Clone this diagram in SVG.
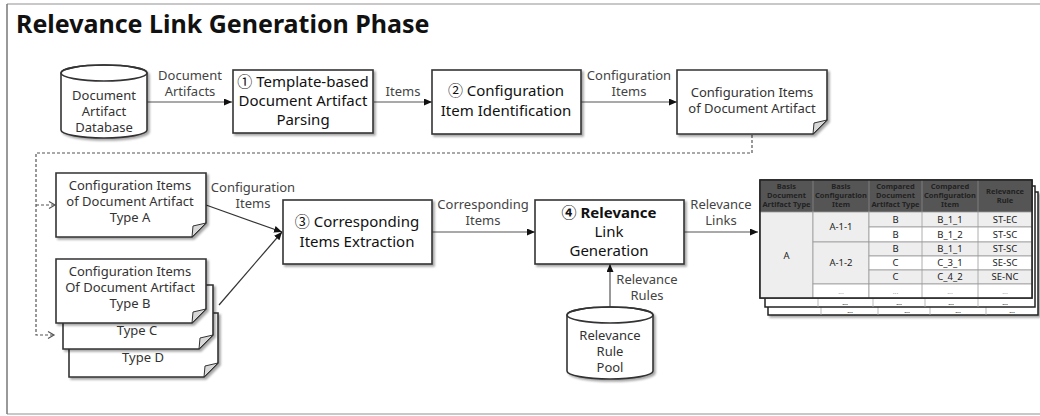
<svg xmlns="http://www.w3.org/2000/svg" width="1040" height="416" viewBox="0 0 1040 416">
<style>
text{font-family:"Noto Sans","Open Sans","Noto Sans CJK KR",sans-serif;fill:#222;text-anchor:middle}
.title{font-size:25px;font-weight:bold;text-anchor:start;fill:#111}
.bx{fill:#fff;stroke:#333;stroke-width:1.6}
.bt{font-size:15px;fill:#111}
.dt{font-size:13px;fill:#333}
.lb{font-size:13px;fill:#444}
.fold{fill:#d8d8d8;stroke:#333;stroke-width:1}
.ln{fill:none;stroke:#333;stroke-width:1.2}
.ln2{fill:none;stroke:#555;stroke-width:1.2}
.dash{fill:none;stroke:#555;stroke-width:1.2;stroke-dasharray:3 2}
.th{font-size:7.5px;font-weight:bold;fill:#fff}
.td{font-size:9.5px;fill:#333}
.tdd{font-size:7px;fill:#aaa}
.g1{fill:#eeeeee}
.g0{fill:#ffffff}
.cell{stroke:#999;stroke-width:0.8}
</style>
<defs>
<filter id="sh" x="-10%" y="-10%" width="130%" height="130%">
<feDropShadow dx="2" dy="2" stdDeviation="1.2" flood-color="#000" flood-opacity="0.35"/>
</filter>
<marker id="ar" markerUnits="userSpaceOnUse" markerWidth="9" markerHeight="8" refX="8" refY="3.5" orient="auto">
<path d="M0,0 L8,3.5 L0,7 Z" fill="#111"/>
</marker>
<marker id="oa" markerUnits="userSpaceOnUse" markerWidth="9" markerHeight="9" refX="7" refY="4" orient="auto">
<path d="M1,0.5 L7,4 L1,7.5" fill="none" stroke="#555" stroke-width="1.2"/>
</marker>
</defs>
<rect x="0" y="0" width="1040" height="416" fill="#fff"/>
<g id="frame">
<line x1="7" y1="4" x2="1040" y2="4" stroke="#c8c8c8" stroke-width="2"/>
<line x1="7" y1="414" x2="1040" y2="414" stroke="#c8c8c8" stroke-width="2"/>
<line x1="7" y1="4" x2="7" y2="414" stroke="#777" stroke-width="1.5"/>
</g>
<text class="title" x="16" y="33">Relevance Link Generation Phase</text>

<g id="connectors">
<line class="ln2" x1="147" y1="102" x2="232" y2="102" marker-end="url(#ar)"/>
<line class="ln2" x1="374" y1="102" x2="432" y2="102" marker-end="url(#ar)"/>
<line class="ln2" x1="581" y1="102" x2="677" y2="102" marker-end="url(#ar)"/>
<path class="dash" d="M752,135 V153 H36 V335 H54" marker-end="url(#oa)"/>
<path class="dash" d="M36,205 H55" marker-end="url(#oa)"/>
<line class="ln" x1="206" y1="205" x2="282" y2="232" marker-end="url(#ar)"/>
<line class="ln" x1="219" y1="305" x2="282" y2="232" marker-end="url(#ar)"/>
<line class="ln2" x1="432" y1="232" x2="535" y2="232" marker-end="url(#ar)"/>
<line class="ln2" x1="684" y1="232" x2="758" y2="232" marker-end="url(#ar)"/>
<line class="ln2" x1="610" y1="307" x2="610" y2="264" marker-end="url(#ar)"/>
<text class="lb" x="190" y="80">Document</text>
<text class="lb" x="190" y="96">Artifacts</text>
<text class="lb" x="403" y="96">Items</text>
<text class="lb" x="629" y="80">Configuration</text>
<text class="lb" x="629" y="96">Items</text>
<text class="lb" x="253" y="192">Configuration</text>
<text class="lb" x="253" y="208">Items</text>
<text class="lb" x="483" y="209">Corresponding</text>
<text class="lb" x="483" y="225">Items</text>
<text class="lb" x="721" y="209">Relevance</text>
<text class="lb" x="721" y="225">Links</text>
<text class="lb" x="647" y="284">Relevance</text>
<text class="lb" x="647" y="300">Rules</text>
</g>

<g id="db-document-artifact">
<path class="bx" filter="url(#sh)" d="M61,73 V130 A43,8 0 0 0 147,130 V73 A43,8 0 0 0 61,73 Z"/>
<ellipse cx="104" cy="73" rx="43" ry="8" fill="none" stroke="#333" stroke-width="1.6"/>
<text class="dt" x="104" y="100">Document</text>
<text class="dt" x="104" y="116">Artifact</text>
<text class="dt" x="104" y="132">Database</text>
</g>

<g id="step1">
<rect class="bx" filter="url(#sh)" x="233" y="70" width="140" height="63"/>
<text class="bt" x="303" y="87">① Template-based</text>
<text class="bt" x="303" y="106">Document Artifact</text>
<text class="bt" x="303" y="125">Parsing</text>
</g>

<g id="step2">
<rect class="bx" filter="url(#sh)" x="432" y="70" width="149" height="64"/>
<text class="bt" x="506" y="96">② Configuration</text>
<text class="bt" x="506" y="116">Item Identification</text>
</g>

<g id="doc-config-items">
<path class="bx" filter="url(#sh)" d="M677,70 H827 V120 L813,134 H677 Z"/>
<path class="fold" d="M827,120 L814,123 L813,134 Z"/>
<text class="dt" x="752" y="97">Configuration Items</text>
<text class="dt" x="752" y="113">of Document Artifact</text>
</g>

<g id="doc-type-a">
<path class="bx" filter="url(#sh)" d="M56,173 H206 V223 L192,237 H56 Z"/>
<path class="fold" d="M206,223 L193,226 L192,237 Z"/>
<text class="dt" x="130" y="190">Configuration Items</text>
<text class="dt" x="130" y="206">of Document Artifact</text>
<text class="dt" x="130" y="222">Type A</text>
</g>

<g id="doc-type-d">
<path class="bx" filter="url(#sh)" d="M69,313 H218 V363 L204,377 H69 Z"/>
<path class="fold" d="M218,363 L205,366 L204,377 Z"/>
<text class="dt" x="143" y="362">Type D</text>
</g>
<g id="doc-type-c">
<path class="bx" filter="url(#sh)" d="M63,285 H213 V335 L199,349 H63 Z"/>
<path class="fold" d="M213,335 L200,338 L199,349 Z"/>
<text class="dt" x="137" y="335">Type C</text>
</g>
<g id="doc-type-b">
<path class="bx" filter="url(#sh)" d="M56,259 H206 V309 L192,323 H56 Z"/>
<path class="fold" d="M206,309 L193,312 L192,323 Z"/>
<text class="dt" x="130" y="276">Configuration Items</text>
<text class="dt" x="130" y="292">Of Document Artifact</text>
<text class="dt" x="130" y="308">Type B</text>
</g>

<g id="step3">
<rect class="bx" filter="url(#sh)" x="283" y="200" width="149" height="64"/>
<text class="bt" x="357" y="227">③ Corresponding</text>
<text class="bt" x="357" y="247">Items Extraction</text>
</g>

<g id="step4">
<rect class="bx" filter="url(#sh)" x="535" y="200" width="149" height="64"/>
<text class="bt" x="609" y="218" font-weight="bold">④ Relevance</text>
<text class="bt" x="609" y="237">Link</text>
<text class="bt" x="609" y="256">Generation</text>
</g>

<g id="db-rule-pool">
<path class="bx" filter="url(#sh)" d="M567,315 V371 A43,8 0 0 0 653,371 V315 A43,8 0 0 0 567,315 Z"/>
<ellipse cx="610" cy="315" rx="43" ry="8" fill="none" stroke="#333" stroke-width="1.6"/>
<text class="dt" x="610" y="340">Relevance</text>
<text class="dt" x="610" y="356">Rule</text>
<text class="dt" x="610" y="372">Pool</text>
</g>

<g id="relevance-table">
<rect x="768" y="192" width="270" height="123" fill="#fff" stroke="#222" stroke-width="1.5" filter="url(#sh)"/>
<g stroke="#aaa" stroke-width="0.8">
<line x1="821" y1="307" x2="821" y2="315"/><line x1="878" y1="307" x2="878" y2="315"/><line x1="930" y1="307" x2="930" y2="315"/><line x1="986" y1="307" x2="986" y2="315"/>
</g>
<g class="tdd"><text x="907" y="313">...</text><text x="958" y="313">...</text><text x="1012" y="313">...</text><text x="850" y="313">...</text></g>
<rect x="765" y="186" width="270" height="121" fill="#fff" stroke="#222" stroke-width="1.5"/>
<g stroke="#aaa" stroke-width="0.8">
<line x1="818" y1="298" x2="818" y2="307"/><line x1="873" y1="298" x2="873" y2="307"/><line x1="925" y1="298" x2="925" y2="307"/><line x1="978" y1="298" x2="978" y2="307"/>
</g>
<g class="tdd"><text x="845" y="305">...</text><text x="899" y="305">...</text><text x="951" y="305">...</text><text x="1005" y="305">...</text></g>
<rect x="760" y="180" width="272" height="118" fill="#fff" stroke="#222" stroke-width="1.5"/>
<rect x="760" y="180" width="272" height="32" fill="#555"/>
<g stroke="#888" stroke-width="0.8"><line x1="813" y1="180" x2="813" y2="212"/><line x1="869" y1="180" x2="869" y2="212"/><line x1="922" y1="180" x2="922" y2="212"/><line x1="978" y1="180" x2="978" y2="212"/></g>
<g class="th">
<text x="786.5" y="189">Basis</text><text x="786.5" y="198">Document</text><text x="786.5" y="207">Artifact Type</text>
<text x="841" y="189">Basis</text><text x="841" y="198">Configuration</text><text x="841" y="207">Item</text>
<text x="895.5" y="189">Compared</text><text x="895.5" y="198">Document</text><text x="895.5" y="207">Artifact Type</text>
<text x="950" y="189">Compared</text><text x="950" y="198">Configuration</text><text x="950" y="207">Item</text>
<text x="1005" y="194">Relevance</text><text x="1005" y="203">Rule</text>
</g>
<g class="cell">
<rect class="g1" x="760" y="212" width="53" height="86"/>
<rect class="g1" x="813" y="212" width="56" height="30"/>
<rect class="g1" x="813" y="242" width="56" height="42"/>
<rect class="g0" x="813" y="284" width="56" height="14"/>
<rect class="g1" x="869" y="212" width="163" height="15"/>
<rect class="g0" x="869" y="227" width="163" height="15"/>
<rect class="g1" x="869" y="242" width="163" height="14"/>
<rect class="g0" x="869" y="256" width="163" height="14"/>
<rect class="g1" x="869" y="270" width="163" height="14"/>
<rect class="g0" x="869" y="284" width="163" height="14"/>
<line x1="922" y1="212" x2="922" y2="298"/>
<line x1="978" y1="212" x2="978" y2="298"/>
</g>
<rect x="760" y="180" width="272" height="118" fill="none" stroke="#222" stroke-width="1.5"/>
<g class="td">
<text x="786.5" y="259">A</text>
<text x="841" y="230">A-1-1</text>
<text x="841" y="266">A-1-2</text>
<text x="841" y="294" class="tdd">...</text>
<text x="895.5" y="223">B</text><text x="950" y="223">B_1_1</text><text x="1005" y="223">ST-EC</text>
<text x="895.5" y="238">B</text><text x="950" y="238">B_1_2</text><text x="1005" y="238">ST-SC</text>
<text x="895.5" y="252">B</text><text x="950" y="252">B_1_1</text><text x="1005" y="252">ST-SC</text>
<text x="895.5" y="266">C</text><text x="950" y="266">C_3_1</text><text x="1005" y="266">SE-SC</text>
<text x="895.5" y="280">C</text><text x="950" y="280">C_4_2</text><text x="1005" y="280">SE-NC</text>
<text x="895.5" y="294" class="tdd">...</text><text x="950" y="294" class="tdd">...</text><text x="1005" y="294" class="tdd">...</text>
</g>
</g>
</svg>
